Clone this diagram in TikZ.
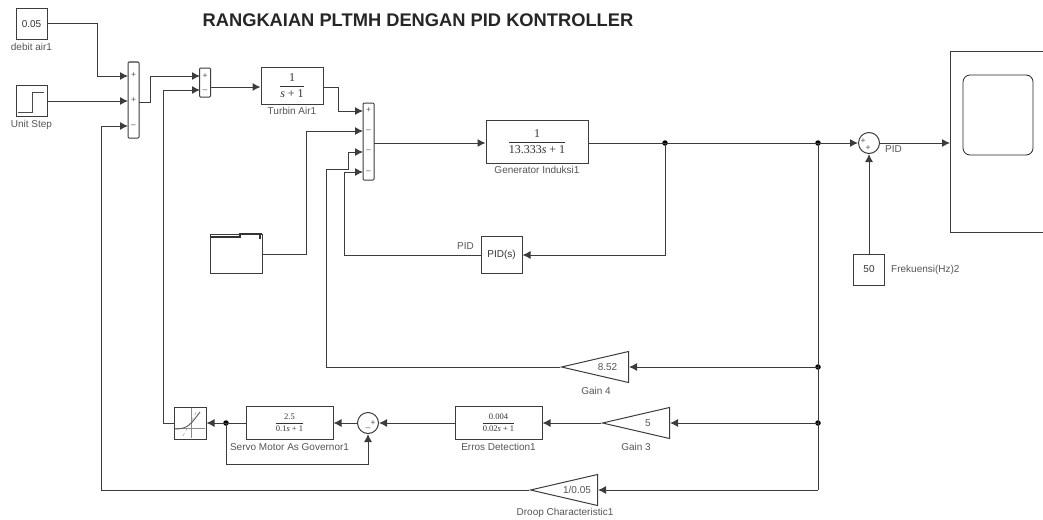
\documentclass[tikz,border=0pt]{standalone}
\usepackage{fontspec}
\setmainfont{Liberation Sans}
\newfontfamily\serif{Liberation Serif}
\usepackage{amsmath}
\usepackage{xcolor}
\definecolor{wirecolor}{RGB}{60, 60, 60}
\definecolor{textcolor}{RGB}{85, 85, 85}
\usetikzlibrary{arrows.meta, positioning, shapes.geometric}
\newcommand{\xfer}[3]{\fontsize{#1}{#1}\selectfont\serif $\dfrac{\text{#2}}{\text{#3}}$}

\begin{document}
\begin{tikzpicture}[
    x=1pt, y=-1pt,
    node distance=2pt and 4pt,
    every node/.style={align=center},
    block/.style={rectangle, draw=wirecolor, line width=1pt, fill=white, inner sep=0pt, text=black!80},
    sumbar/.style={rectangle, rounded corners=1pt, draw=wirecolor, line width=1pt, fill=white, minimum width=11pt, inner sep=0pt},
    sumround/.style={circle, draw=wirecolor, line width=1pt, fill=white, minimum size=21pt, inner sep=0pt},
    gain/.style={isosceles triangle, shape border rotate=180, isosceles triangle stretches, anchor=lower side, draw=wirecolor, line width=1pt, fill=white, minimum width=31pt, minimum height=67pt, inner sep=0pt},
    caption/.style={font=\fontsize{10}{11}\selectfont, text=textcolor, inner sep=0pt},
    value/.style={font=\fontsize{10}{11}\selectfont, text=textcolor, inner sep=0pt},
    sign/.style={font=\fontsize{8.5}{9}\selectfont, text=textcolor, inner sep=0pt},
    wire/.style={draw=wirecolor, line width=1pt},
    arrow/.style={wire, -{Latex[length=8pt, width=8pt]}},
    joint/.style={circle, fill=black, inner sep=0pt, minimum size=5.5pt}
]
\useasboundingbox (0,0) rectangle (1043,519);

% Title
\node[font=\bfseries\fontsize{18.3}{20}\selectfont, text=black!85, inner sep=0pt] (title) at (418,20) {RANGKAIAN PLTMH DENGAN PID KONTROLLER};

% Nodes
\node[block, minimum width=31pt, minimum height=31pt] (debit) at (31.5,24) {\fontsize{10}{11}\selectfont 0.05};
\node[caption, below=3pt of debit] (debitcap) {debit air1};
\node[block, minimum width=31pt, minimum height=31pt] (unitstep) at (31.5,101) {};
\node[caption, below=3pt of unitstep] (unitstepcap) {Unit Step};
\node[sumbar, minimum height=76pt] (sumA) at (133.5,100) {};
\node[sumbar, minimum height=29pt] (sumB) at (205,82.5) {};
\node[block, minimum width=62pt, minimum height=37pt] (turbin) at (292,85.5) {\xfer{12}{1}{\textit{s} + 1}};
\node[caption, below=3pt of turbin] (turbincap) {Turbin Air1};
\node[sumbar, minimum height=77pt] (sumC) at (368.5,141.5) {};
\node[block, minimum width=102pt, minimum height=43pt] (generator) at (537,141.5) {\xfer{12}{1}{13.333\textit{s} + 1}};
\node[caption, below=3pt of generator] (generatorcap) {Generator Induksi1};
\node[block, minimum width=41pt, minimum height=37pt] (pid) at (501.5,255) {\fontsize{10}{11}\selectfont PID(s)};
\node[caption, anchor=south east] (pidcap) at (474,250) {PID};
\node[block, minimum width=52pt, minimum height=39pt] (fromfile) at (236,254) {};
\node[sumround] (sumD) at (869,143) {};
\node[caption, anchor=west] (sumDcap) at (885,149) {PID};
\node[block, minimum width=31pt, minimum height=31pt] (freq) at (869,269.5) {\fontsize{10}{11}\selectfont 50};
\node[caption, right=6pt of freq] (freqcap) {Frekuensi(Hz)2};
\node[block, anchor=north west, minimum width=120pt, minimum height=181pt] (scope) at (950,51) {};
\node[rectangle, rounded corners=7pt, draw=black!85, line width=0.8pt, minimum width=70pt, minimum height=80pt, inner sep=0pt] (screen) at (998,115) {};
\node[gain] (gainD) at (629,367) {};
\node[value] (gainDval) at (607.5,367) {8.52};
\node[caption] (gainDcap) at (596,391) {Gain 4};
\node[gain] (gainC) at (670,423) {};
\node[value] (gainCval) at (648,423) {5};
\node[caption] (gainCcap) at (636,447) {Gain 3};
\node[gain] (droop) at (598,490) {};
\node[value] (droopval) at (577,490) {1/0.05};
\node[caption] (droopcap) at (565,513) {Droop Characteristic1};
\node[block, minimum width=87pt, minimum height=33pt] (erros) at (498.5,423) {\xfer{8.5}{0.004}{0.02\textit{s} + 1}};
\node[caption, below=3pt of erros] (erroscap) {Erros Detection1};
\node[sumround] (sumE) at (368,423) {};
\node[block, minimum width=87pt, minimum height=33pt] (servo) at (289.5,423) {\xfer{8.5}{2.5}{0.1\textit{s} + 1}};
\node[caption, below=3pt of servo] (servocap) {Servo Motor As Governor1};
\node[block, minimum width=32pt, minimum height=32pt] (lookup) at (190,423) {};

% Signs on the sums
\node[sign] (signA1) at (133.5,75) {+};
\node[sign] (signA2) at (133.5,100) {+};
\node[sign] (signA3) at (133.5,126) {--};
\node[sign] (signB1) at (205,76) {+};
\node[sign] (signB2) at (205,91) {--};
\node[sign] (signC1) at (368.5,110) {+};
\node[sign] (signC2) at (368.5,131) {--};
\node[sign] (signC3) at (368.5,151.5) {--};
\node[sign] (signC4) at (368.5,172) {--};
\node[sign] (signD1) at (863,141) {+};
\node[sign] (signD2) at (868,148) {+};
\node[sign] (signE1) at (373,423) {+};
\node[sign] (signE2) at (368,429) {--};

% Icons
\draw[line width=0.9pt, black!70] (18,112.5) -- (32,112.5) -- (32,92) -- (44,92);
\draw[black!45, line width=0.6pt] (191,408) -- (191,438) (175,428) -- (205,428);
\draw[black!35, line width=0.6pt, dashed] (183,436) -- (197,411);
\draw[black!65, line width=0.9pt] (175,429) .. controls (188,429) and (191,424) .. (200,412);
\draw[line width=1.2pt, black!80] (210,237) -- (240,237) -- (240,234) -- (262,234) (260,234) -- (260,239);

% Coordinates of ports
\coordinate (inA1) at (128,76);
\coordinate (inA2) at (128,101);
\coordinate (inA3) at (128,126);
\coordinate (inB1) at (200,76);
\coordinate (inB2) at (200,90);
\coordinate (inC1) at (363,111);
\coordinate (inC2) at (363,131);
\coordinate (inC3) at (363,152);
\coordinate (inC4) at (363,172);
\coordinate (outA) at (139,102);
\coordinate (outB) at (210,87);
\coordinate (outC) at (374,143);
\coordinate (corner) at (818,490);
\node[joint] (jointA) at (665,143) {};
\node[joint] (jointB) at (818,143) {};
\node[joint] (jointC) at (818,367) {};
\node[joint] (jointD) at (818,423) {};
\node[joint] (jointE) at (226,423) {};

% Connections
\draw[arrow] (debit.east) -- (97,24) |- (inA1);
\draw[arrow] (unitstep.east) -- (inA2);
\draw[arrow] (outA) -- (150,102) |- (inB1);
\draw[arrow] (outB) -- (turbin.west |- outB);
\draw[arrow] (turbin.east |- outB) -- (338,87) |- (inC1);
\draw[arrow] (outC) -- (generator.west |- outC);
\draw[wire] (generator.east |- outC) -- (jointB.center);
\draw[arrow] (jointB.center) -- (sumD.west);
\draw[arrow] (sumD.east) -- (scope.west |- sumD);
\draw[arrow] (freq.north) -- (sumD.south);
\draw[arrow] (jointA.center) |- (pid.east);
\draw[arrow] (pid.west) -- (344,255) |- (inC4);
\draw[arrow] (fromfile.east) -- (306,254) |- (inC2);
\draw[wire] (jointB.center) -- (corner);
\draw[arrow] (jointC.center) -- (gainD.lower side);
\draw[arrow] (jointD.center) -- (gainC.lower side);
\draw[arrow] (corner) -- (droop.lower side);
\draw[arrow] (gainD.apex) -- (326,367) -- (326,169) -- (348,169) |- (inC3);
\draw[arrow] (gainC.apex) -- (erros.east);
\draw[arrow] (erros.west) -- (sumE.east);
\draw[arrow] (sumE.west) -- (servo.east);
\draw[arrow] (servo.west) -- (lookup.east);
\draw[arrow] (jointE.center) -- (226,464) -| (sumE.south);
\draw[arrow] (lookup.west) -- (163,423) |- (inB2);
\draw[arrow] (droop.apex) -- (101,490) |- (inA3);

\end{tikzpicture}
\end{document}
